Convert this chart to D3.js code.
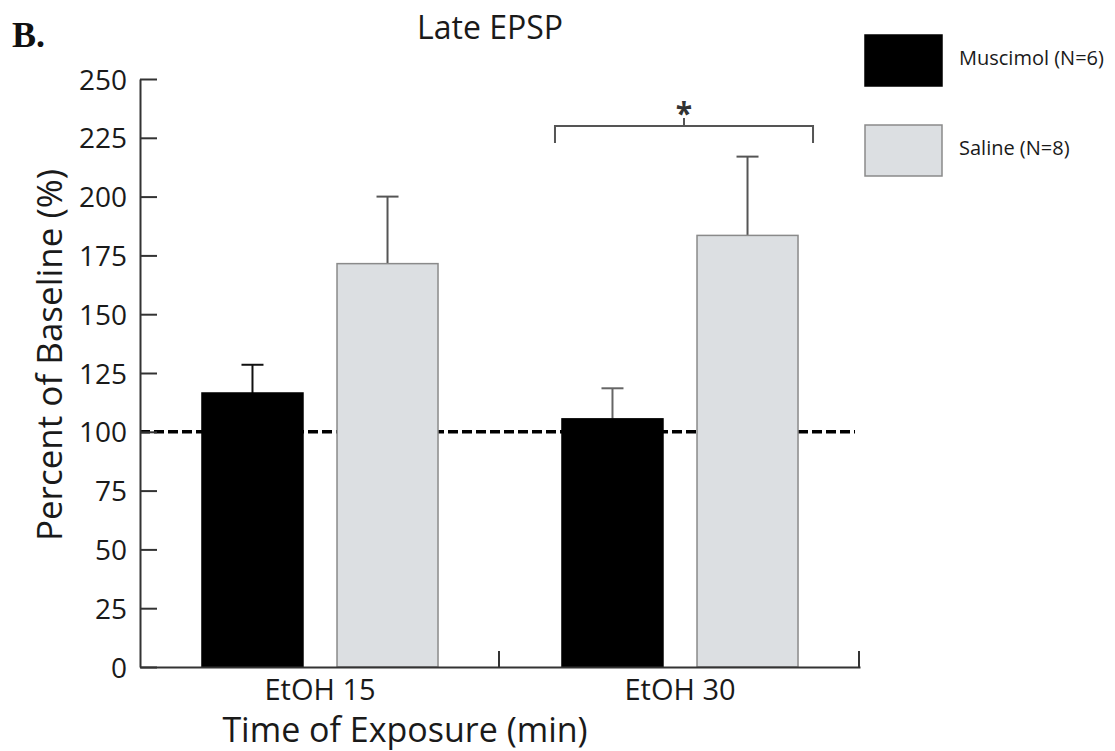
<!DOCTYPE html>
<html>
<head>
<meta charset="utf-8">
<script src="https://cdn.jsdelivr.net/npm/d3@7/dist/d3.min.js"></script>
<style>
  html, body { margin: 0; padding: 0; background: #fff; }
  svg { display: block; }
  text { font-family: "Open Sans", sans-serif; fill: #1a1a1a; }
  text.panel { font-family: "Liberation Serif", "DejaVu Serif", serif; font-weight: bold; fill: #111; }
</style>
</head>
<body>
<svg id="chart" width="1115" height="751"></svg>
<script>
// ---- data ----
const categories = ["EtOH 15", "EtOH 30"];
const series = ["Muscimol (N=6)", "Saline (N=8)"];
const muscimolMean = [116.5, 105.5];
const muscimolErr = [12, 13];
const salineMean = [171.5, 183.5];
const salineErr = [28.5, 33.5];
const yTicks = [0, 25, 50, 75, 100, 125, 150, 175, 200, 225, 250];
const baselineValue = 100;
const sigPair = ["EtOH 30"];
const sigLabel = "*";
const chartTitle = "Late EPSP";
const panelLabel = "B.";
const yTitle = "Percent of Baseline (%)";
const xTitle = "Time of Exposure (min)";

const fills = ["#000000", "#dcdfe2"];
const strokes = ["#000000", "#8a8a8a"];
const errColors = [["#111111", "#555555"], ["#666666", "#555555"]];

const svg = d3.select("#chart");

const x = d3.scaleBand().domain(categories).range([140, 860]).paddingInner(0).paddingOuter(0);
const xSub = d3.scaleBand().domain(series).range([0, x.bandwidth()]).paddingInner(0.252).paddingOuter(0.459);
const y = d3.scaleLinear().domain([0, 250]).range([667, 79]);

const rows = [];
categories.forEach((c, i) => {
  rows.push({cat: c, ci: i, s: series[0], si: 0, mean: muscimolMean[i], err: muscimolErr[i]});
  rows.push({cat: c, ci: i, s: series[1], si: 1, mean: salineMean[i], err: salineErr[i]});
});

// baseline dashed line (behind bars)
svg.append("line")
  .attr("x1", x.range()[0]).attr("x2", x.range()[1] - 5)
  .attr("y1", y(baselineValue)).attr("y2", y(baselineValue))
  .attr("stroke", "#000").attr("stroke-width", 3.5)
  .attr("stroke-dasharray", "10,4");

// error bars
const capW = 22;
const eb = svg.append("g");
rows.forEach(r => {
  const cx = x(r.cat) + xSub(r.s) + xSub.bandwidth() / 2;
  const col = errColors[r.ci][r.si];
  eb.append("line").attr("x1", cx).attr("x2", cx)
    .attr("y1", y(r.mean)).attr("y2", y(r.mean + r.err))
    .attr("stroke", col).attr("stroke-width", 2);
  eb.append("line").attr("x1", cx - capW / 2).attr("x2", cx + capW / 2)
    .attr("y1", y(r.mean + r.err)).attr("y2", y(r.mean + r.err))
    .attr("stroke", col).attr("stroke-width", 2);
});

// bars
svg.append("g").selectAll("rect").data(rows).join("rect")
  .attr("x", d => x(d.cat) + xSub(d.s))
  .attr("y", d => y(d.mean))
  .attr("width", xSub.bandwidth())
  .attr("height", d => y(0) - y(d.mean))
  .attr("fill", d => fills[d.si])
  .attr("stroke", d => strokes[d.si])
  .attr("stroke-width", 1.5);

// y axis
const yAxis = svg.append("g").attr("transform", "translate(140,0)")
  .call(d3.axisLeft(y).tickValues(yTicks).tickSizeInner(-17).tickSizeOuter(0).tickPadding(13));
yAxis.select(".domain").attr("stroke", "#333").attr("stroke-width", 2);
yAxis.selectAll(".tick line").attr("stroke", "#333").attr("stroke-width", 2);
yAxis.selectAll(".tick text").attr("font-family", "Open Sans").attr("font-size", 28).attr("fill", "#1a1a1a").attr("dy", "0.36em");

// x axis
const xAxis = svg.append("g").attr("transform", "translate(0,667)")
  .call(d3.axisBottom(x).tickSize(0).tickPadding(12));
xAxis.select(".domain").attr("stroke", "#333").attr("stroke-width", 2);
xAxis.selectAll(".tick text").attr("font-family", "Open Sans").attr("font-size", 29).attr("fill", "#1a1a1a").attr("dy", "0.71em");
// x ticks at band ends, pointing up
svg.append("g").selectAll("line").data(categories).join("line")
  .attr("x1", d => x(d) + x.bandwidth() - 1).attr("x2", d => x(d) + x.bandwidth() - 1)
  .attr("y1", 667).attr("y2", 651)
  .attr("stroke", "#333").attr("stroke-width", 2);

// significance bracket
sigPair.forEach(c => {
  const x0 = x(c) + xSub(series[0]) - 7;
  const x1 = x(c) + xSub(series[1]) + xSub.bandwidth() + 15;
  const by = 126;
  const g = svg.append("g").attr("stroke", "#555").attr("stroke-width", 2).attr("fill", "none");
  g.append("path").attr("d", `M${x0},${by + 17}V${by}H${x1}V${by + 17}`);
  const mx = (x0 + x1) / 2;
  g.append("line").attr("x1", mx).attr("x2", mx).attr("y1", by).attr("y2", by - 8);
  svg.append("text").attr("x", mx).attr("y", by - 2).attr("text-anchor", "middle")
    .attr("font-size", 30).attr("font-weight", "bold").style("fill", "#333").text(sigLabel);
});

// titles
svg.append("text").attr("x", 490).attr("y", 39).attr("text-anchor", "middle")
  .attr("font-size", 32).text(chartTitle);
svg.append("text").attr("class", "panel").attr("x", 12).attr("y", 47)
  .attr("font-size", 36).text(panelLabel);
svg.append("text").attr("transform", "translate(62,355) rotate(-90)")
  .attr("text-anchor", "middle").attr("font-size", 35).text(yTitle);
svg.append("text").attr("x", 405).attr("y", 742).attr("text-anchor", "middle")
  .attr("font-size", 34).text(xTitle);

// legend
const leg = svg.append("g");
series.forEach((s, i) => {
  const ly = 35 + i * 90;
  leg.append("rect").attr("x", 865).attr("y", ly).attr("width", 77).attr("height", 51)
    .attr("fill", fills[i]).attr("stroke", strokes[i]).attr("stroke-width", 1.5);
  leg.append("text").attr("x", 959).attr("y", ly + 30).attr("font-size", 20).text(s);
});
</script>
</body>
</html>
